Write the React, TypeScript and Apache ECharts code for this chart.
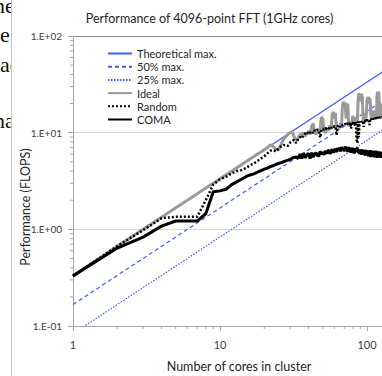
import React, { useEffect, useRef } from "react";
import * as echarts from "echarts";

// ---------- data ----------
const cores: number[] = Array.from({ length: 128 }, (_, i) => i + 1);

// straight reference lines (power law -> straight on log-log), end points
const theoreticalMax: [number, number][] = [[1, 0.3333], [128, 42.67]];
const halfMax: [number, number][] = [[1, 0.1667], [128, 21.33]];
const quarterMax: [number, number][] = [[1, 0.0833], [128, 10.67]];

const idealVals: number[] = [
  // 1-16
  0.33, 0.67, 1.0, 1.33, 1.67, 2.0, 2.33, 2.67, 3.0, 3.33, 3.67, 4.0, 4.33, 4.67, 5.0, 5.33,
  // 17-35
  5.67, 6.0, 6.3, 6.67, 7.0, 7.5, 7.2, 6.7, 6.6, 7.5, 8.5, 9.1, 9.6, 10.0, 10.2, 9.0, 8.4, 8.8, 9.6,
  // 36-55
  9.5, 10.0, 9.2, 9.8, 10.4, 9.6, 11.5, 12.5, 10.0, 9.7, 10.2, 9.9, 11.0, 14.5, 13.8, 10.3, 10.0, 10.6, 11.2, 10.4,
  // 56-75
  12.0, 10.8, 15.5, 16.4, 14.0, 16.0, 11.0, 10.9, 11.6, 11.2, 12.5, 11.4, 18.5, 20.9, 19.5, 20.5, 14.0, 17.0, 20.0, 12.0,
  // 76-95
  11.8, 12.4, 13.0, 12.2, 15.0, 12.5, 13.8, 12.6, 14.5, 13.0, 12.8, 22.0, 25.6, 24.0, 25.0, 21.0, 25.3, 23.0, 14.0, 13.2,
  // 96-115
  16.0, 13.4, 13.6, 15.5, 21.5, 23.0, 22.0, 23.5, 20.0, 22.5, 16.0, 14.0, 13.8, 15.0, 14.2, 17.0, 14.0, 14.4, 16.5, 14.3,
  // 116-128
  14.6, 24.0, 26.5, 25.0, 26.6, 22.0, 15.0, 14.6, 18.0, 14.8, 20.0, 15.0, 17.5,
];

const randomVals: number[] = [
  // 1-16
  0.33, 0.67, 0.98, 1.3, 1.35, 1.35, 1.35, 2.0, 2.9, 3.3, 3.5, 3.8, 4.0, 4.1, 4.3, 4.6,
  // 17-35
  4.8, 5.1, 5.4, 5.7, 6.1, 6.5, 6.6, 6.4, 6.9, 7.2, 7.4, 7.5, 7.3, 7.9, 8.2, 8.4, 7.8, 8.6, 9.0,
  // 36-60
  8.7, 9.5, 9.8, 10.2, 9.6, 10.0, 10.4, 9.9, 10.6, 10.3, 10.8, 10.5, 8.9, 10.9, 11.0, 10.7, 11.2, 10.9, 11.3, 11.0, 11.5, 11.2, 11.6, 11.4, 11.7,
  // 61-90
  11.5, 9.4, 11.6, 12.0, 11.8, 11.4, 12.1, 11.9, 12.2, 12.0, 12.4, 12.1, 12.5, 12.2, 12.6, 12.3, 12.7, 11.0, 12.8, 12.4, 12.9, 12.6, 11.8, 13.0, 8.4, 7.8, 13.1, 9.0, 13.0, 12.7,
  // 91-128
  13.2, 12.9, 13.3, 13.0, 11.5, 13.4, 13.1, 13.5, 13.2, 13.6, 13.3, 13.7, 13.4, 12.0, 13.8, 13.5, 13.9, 13.6, 14.0, 13.7, 14.1, 13.8, 14.0, 14.2, 13.9, 14.3, 14.0, 14.4, 14.1, 14.3, 14.5, 14.2, 14.4, 14.6, 14.3, 14.5, 14.4, 14.4,
];

const comaVals: number[] = [
  // 1-16
  0.33, 0.64, 0.83, 1.08, 1.22, 1.22, 1.22, 1.45, 2.45, 2.5, 2.6, 2.9, 3.1, 3.3, 3.5, 3.65,
  // 17-33
  3.75, 3.9, 4.05, 4.2, 4.3, 4.45, 4.55, 4.7, 4.8, 4.9, 5.0, 5.1, 5.2, 5.3, 5.45, 5.55, 5.6,
  // 34-60
  5.4, 6.0, 5.4, 6.1, 5.5, 5.9, 6.1, 5.4, 6.2, 5.6, 6.0, 6.2, 5.8, 5.7, 6.4, 6.0, 6.3, 5.9, 6.5, 6.1, 6.4, 6.6, 6.0, 6.5, 6.7, 6.2, 6.6,
  // 61-90
  6.8, 6.3, 6.9, 6.5, 7.0, 6.4, 7.1, 6.6, 6.9, 6.4, 7.2, 6.7, 7.0, 6.3, 7.1, 6.6, 6.9, 6.2, 7.0, 6.5, 6.8, 6.1, 6.9, 6.4, 6.7, 7.0, 6.2, 6.7, 6.0, 6.6,
  // 91-128
  6.5, 5.9, 6.7, 6.1, 6.3, 6.6, 5.8, 6.4, 6.6, 5.9, 6.3, 5.7, 6.5, 5.9, 6.6, 5.6, 6.2, 6.4, 5.7, 6.5, 5.9, 5.6, 6.4, 6.2, 5.7, 6.5, 5.5, 6.1, 6.3, 5.6, 6.4, 5.8, 6.1, 5.5, 6.3, 5.8, 6.2, 5.7,
];

const xMinorTicks: number[] = [2, 3, 4, 5, 6, 7, 8, 9, 20, 30, 40, 50, 60, 70, 80, 90];
const yMinorTicks: number[] = [
  0.2, 0.3, 0.4, 0.5, 0.6, 0.7, 0.8, 0.9, 2, 3, 4, 5, 6, 7, 8, 9, 20, 30, 40, 50, 60, 70, 80, 90,
];

const seriesNames = ["Theoretical max.", "50% max.", "25% max.", "Ideal", "Random", "COMA"];

const FONT = "Lato, 'Open Sans', sans-serif";
const BLUE = "#3b5bff";
const AXIS = "#a6a6a6";

function pair(vals: number[]): [number, number][] {
  const n = Math.min(vals.length, cores.length);
  const out: [number, number][] = [];
  for (let i = 0; i < n; i++) out.push([cores[i], vals[i]]);
  return out;
}

function yFmt(v: number): string {
  const e = Math.round(Math.log10(v));
  return "1.E" + (e < 0 ? "-" : "+") + String(Math.abs(e)).padStart(2, "0");
}

function xFmt(v: number): string {
  return v > 100 ? "" : String(v);
}

export default function App() {
  const ref = useRef<HTMLDivElement>(null);
  useEffect(() => {
    if (!ref.current) return;
    const chart = echarts.init(ref.current, null, { renderer: "svg" });
    const lineBase = { type: "line", symbol: "none", showSymbol: false, silent: true, clip: true };
    const centered = {
      fontSize: 12.5,
      fontFamily: FONT,
      fill: "#262626",
      align: "center",
      verticalAlign: "middle",
      textAlign: "center",
      textVerticalAlign: "middle",
    };
    chart.setOption({
      animation: false,
      backgroundColor: "#ffffff",
      textStyle: { fontFamily: FONT },
      grid: { left: 73, top: 36, width: 441, height: 290 },
      legend: {
        data: seriesNames,
        orient: "vertical",
        left: 107,
        top: 48,
        itemWidth: 24,
        itemHeight: 12,
        itemGap: 2.2,
        padding: 0,
        selectedMode: false,
        itemStyle: { opacity: 0, color: "rgba(0,0,0,0)", borderWidth: 0 },
        textStyle: { fontFamily: FONT, fontSize: 11, color: "#262626" },
      },
      xAxis: {
        type: "log",
        logBase: 10,
        min: 1,
        max: 1000,
        axisLine: { show: true, lineStyle: { color: AXIS, width: 1 } },
        axisTick: { show: true, length: 5, lineStyle: { color: AXIS } },
        axisLabel: { color: "#404040", fontSize: 11, margin: 13, fontFamily: FONT, formatter: xFmt },
        splitLine: { show: false },
      },
      yAxis: {
        type: "log",
        logBase: 10,
        min: 0.1,
        max: 100,
        axisLine: { show: true, lineStyle: { color: AXIS, width: 1 } },
        axisTick: { show: true, length: 5, lineStyle: { color: AXIS } },
        axisLabel: { color: "#404040", fontSize: 10, margin: 11, formatter: yFmt, fontFamily: FONT },
        splitLine: {
          show: true,
          lineStyle: { color: ["#d9d9d9", "#d9d9d9", "#d9d9d9", "#8c8c8c"], width: 1 },
        },
      },
      graphic: [
        { type: "text", x: 209.5, y: 18, style: { ...centered, text: "Performance of 4096-point FFT (1GHz cores)" } },
        { type: "text", x: 239, y: 366, style: { ...centered, text: "Number of cores in cluster" } },
        { type: "text", x: 25, y: 207, rotation: Math.PI / 2, style: { ...centered, text: "Performance (FLOPS)" } },
      ],
      series: [
        { ...lineBase, name: "Theoretical max.", data: theoreticalMax, lineStyle: { color: BLUE, width: 1.2 }, itemStyle: { color: BLUE } },
        { ...lineBase, name: "50% max.", data: halfMax, lineStyle: { color: BLUE, width: 1.2, type: [4, 3] }, itemStyle: { color: BLUE } },
        { ...lineBase, name: "25% max.", data: quarterMax, lineStyle: { color: BLUE, width: 1.2, type: [1.5, 1.5] }, itemStyle: { color: BLUE } },
        { ...lineBase, name: "Ideal", data: pair(idealVals), lineStyle: { color: "#9a9a9a", width: 3 }, itemStyle: { color: "#9a9a9a" } },
        { ...lineBase, name: "Random", data: pair(randomVals), lineStyle: { color: "#000000", width: 2.5, type: [2, 2] }, itemStyle: { color: "#000000" } },
        { ...lineBase, name: "COMA", data: pair(comaVals), lineStyle: { color: "#000000", width: 3 }, itemStyle: { color: "#000000" } },
        {
          type: "custom",
          silent: true,
          clip: false,
          data: xMinorTicks.map((v) => [v, 0.1]),
          renderItem: (_p: any, api: any) => {
            const p = api.coord([api.value(0), api.value(1)]);
            return {
              type: "line",
              shape: { x1: p[0], y1: p[1], x2: p[0], y2: p[1] + 3 },
              style: { stroke: AXIS, lineWidth: 1 },
            };
          },
        },
        {
          type: "custom",
          silent: true,
          clip: false,
          data: yMinorTicks.map((v) => [1, v]),
          renderItem: (_p: any, api: any) => {
            const p = api.coord([api.value(0), api.value(1)]);
            return {
              type: "line",
              shape: { x1: p[0] - 3, y1: p[1], x2: p[0], y2: p[1] },
              style: { stroke: AXIS, lineWidth: 1 },
            };
          },
        },
      ],
    });
    return () => chart.dispose();
  }, []);

  const frag: React.CSSProperties = { position: "absolute", whiteSpace: "nowrap", lineHeight: "22px" };
  return (
    <div style={{ position: "absolute", left: 0, top: 0, width: 382, height: 376, overflow: "hidden", background: "#fff" }}>
      <div ref={ref} style={{ position: "absolute", left: 0, top: 0, width: 520, height: 376 }} />
      <div
        style={{
          position: "absolute",
          left: 0,
          top: 0,
          width: 11,
          height: 376,
          overflow: "hidden",
          borderRight: "1px solid #c8c8c8",
          fontFamily: "'Liberation Serif', 'DejaVu Serif', serif",
          fontSize: 22,
          color: "#111",
          background: "#fff",
        }}
      >
        <span style={{ ...frag, left: -6, top: -5 }}>ne</span>
        <span style={{ ...frag, left: 0, top: 24 }}>e</span>
        <span style={{ ...frag, left: 0, top: 54 }}>ac</span>
        <span style={{ ...frag, left: -6, top: 110 }}>na</span>
      </div>
    </div>
  );
}
